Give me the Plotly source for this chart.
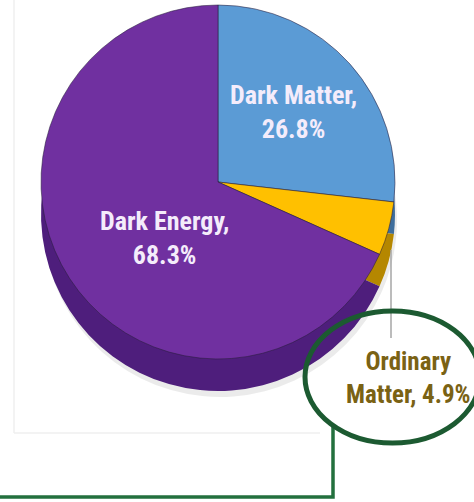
import plotly.graph_objects as go

# ---- data ----
categories = ["Dark Matter", "Ordinary Matter", "Dark Energy"]
shares = [26.8, 4.9, 68.3]
face_colors = ["#5B9BD5", "#FFC000", "#7030A0"]
side_colors = ["#3E6E9C", "#B58700", "#4E1E7C"]
label_pos_px = [(293, 112), None, (164, 238)]   # inside label centres (text placement only)
callout_label = "Ordinary<br>Matter, 4.9%"

W, H = 474, 502
FONT = "Liberation Sans Narrow, Arial Narrow, Roboto Condensed, DejaVu Sans Condensed, sans-serif"

def px_domain(cx, cy, r):
    return dict(x=[(cx - r) / W, (cx + r) / W], y=[1 - (cy + r) / H, 1 - (cy - r) / H])

cx, cy, r = 218, 182, 177
depth = 32

fig = go.Figure()

# soft drop shadow
fig.add_trace(go.Pie(
    labels=categories, values=shares, sort=False, direction="clockwise", rotation=0,
    domain=px_domain(cx + 2, cy + depth + 6, r), textinfo="none", hoverinfo="skip",
    marker=dict(colors=["rgba(0,0,0,0.08)"] * 3, line=dict(width=0)), showlegend=False,
))
# 3D side (extruded body)
fig.add_trace(go.Pie(
    labels=categories, values=shares, sort=False, direction="clockwise", rotation=0,
    domain=px_domain(cx, cy + depth, r), textinfo="none", hoverinfo="skip",
    marker=dict(colors=side_colors, line=dict(width=0)), showlegend=False,
))
# top face
fig.add_trace(go.Pie(
    labels=categories, values=shares, sort=False, direction="clockwise", rotation=0,
    domain=px_domain(cx, cy, r), textinfo="none",
    hoverinfo="label+percent",
    marker=dict(colors=face_colors, line=dict(color="rgba(40,30,60,0.55)", width=1)),
    showlegend=False,
))

annotations = []
for cat, val, pos in zip(categories, shares, label_pos_px):
    if pos is None:
        continue
    annotations.append(dict(
        text=f"{cat},<br>{val:.1f}%", xref="paper", yref="paper",
        x=pos[0] / W, y=1 - pos[1] / H, xanchor="center", yanchor="middle",
        showarrow=False, align="center",
        font=dict(family=FONT, size=26, color="#F4ECFB", weight="bold"),
    ))
annotations.append(dict(
    text=callout_label, xref="paper", yref="paper",
    x=408 / W, y=1 - 378 / H, xanchor="center", yanchor="middle",
    showarrow=False, align="center",
    font=dict(family=FONT, size=25, color="#7A6214", weight="bold"),
))

shapes = []
# faint chart-area frame
shapes.append(dict(type="line", xref="paper", yref="paper", x0=14 / W, x1=14 / W,
                   y0=1, y1=1 - 433 / H, line=dict(color="#EFEFEF", width=1.5)))
shapes.append(dict(type="line", xref="paper", yref="paper", x0=14 / W, x1=320 / W,
                   y0=1 - 433 / H, y1=1 - 433 / H, line=dict(color="#EFEFEF", width=1.5)))
# gray leader line
shapes.append(dict(type="line", xref="paper", yref="paper", x0=391 / W, x1=391 / W,
                   y0=1 - 250 / H, y1=1 - 338 / H, line=dict(color="#A6A6A6", width=1.5)))
# green connector
shapes.append(dict(type="path", xref="paper", yref="paper",
                   path=f"M {333 / W} {1 - 426 / H} L {333 / W} {1 - 497 / H} L {-5 / W} {1 - 497 / H}",
                   line=dict(color="#23703E", width=3.5)))
# green ellipse
shapes.append(dict(type="circle", xref="paper", yref="paper",
                   x0=305 / W, x1=480 / W, y0=1 - 443 / H, y1=1 - 311 / H,
                   line=dict(color="#1C5A31", width=5)))

fig.update_layout(
    width=W, height=H,
    margin=dict(l=0, r=0, t=0, b=0),
    paper_bgcolor="white", plot_bgcolor="white",
    shapes=shapes,
    annotations=annotations,
)

fig.write_html("out.html")
